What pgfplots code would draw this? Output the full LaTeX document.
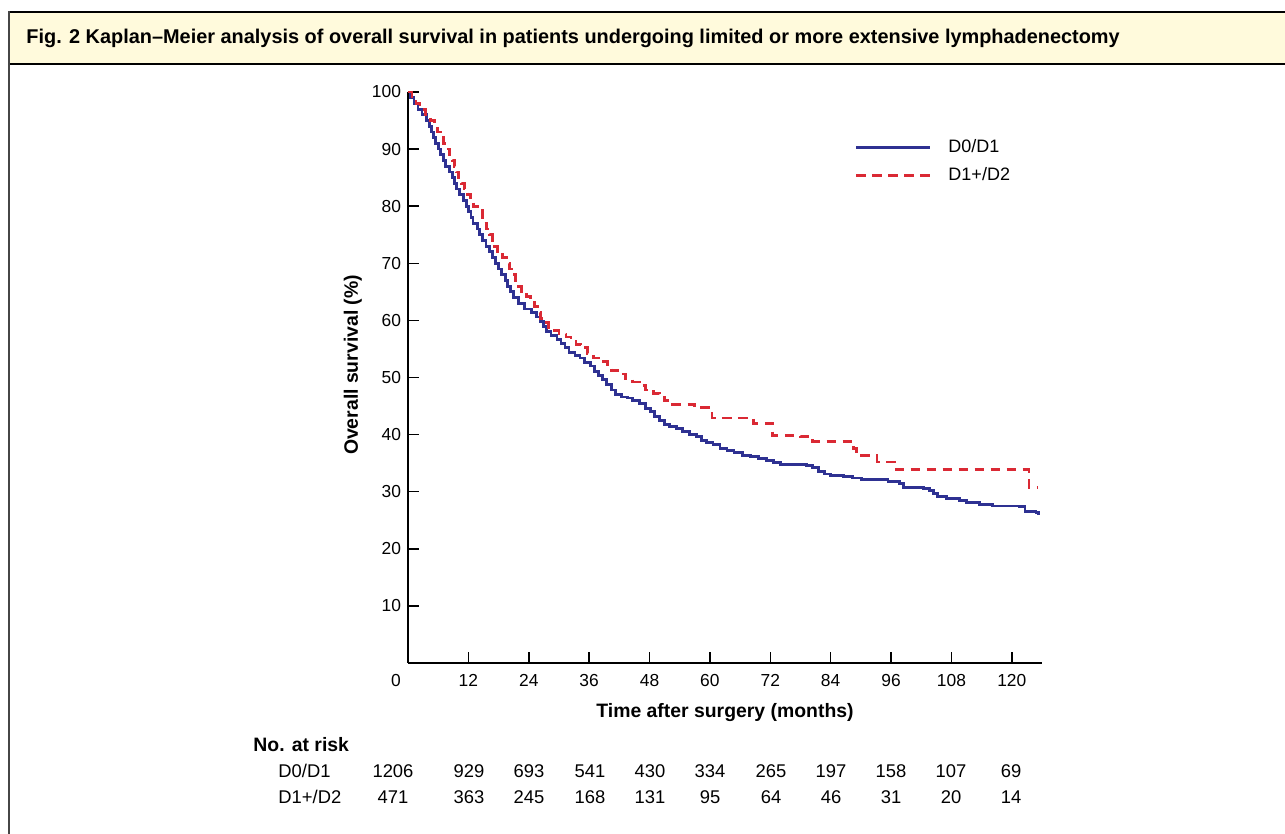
\documentclass[border=0pt]{standalone}
\usepackage{pgfplots}
\pgfplotsset{compat=1.18}
\usepackage{fontspec}
\setmainfont{Liberation Sans}

\definecolor{kmblue}{RGB}{46,49,146}
\definecolor{kmred}{RGB}{218,41,52}
\definecolor{titlebg}{RGB}{255,250,220}
\definecolor{framegray}{RGB}{70,70,70}

\newcommand{\lbl}{\fontsize{8.7}{10}\selectfont}
\newcommand{\tbl}{\fontsize{9.2}{11}\selectfont}
\newcommand{\blbl}{\bfseries\fontsize{9.7}{11}\selectfont}

\begin{document}
\begin{tikzpicture}
	% frame, title bar and risk table, in pixel units (y up)
	\begin{scope}[x=0.5pt,y=0.5pt]
		\useasboundingbox (0,0) rectangle (1285,834);
		\fill[titlebg] (9,770) rectangle (1285,822);
		\draw[line width=1pt, black] (9,822) -- (1285,822);
		\draw[line width=1pt, black] (9,770) -- (1285,770);
		\draw[line width=1.2pt, framegray] (9,0) -- (9,822.5);
		\node[anchor=base west, inner sep=0pt, font=\bfseries\fontsize{9.95}{11}\selectfont]
			at (26,790) {Fig. 2 Kaplan–Meier analysis of overall survival in patients undergoing limited or more extensive lymphadenectomy};

		\node[anchor=west, inner sep=0pt, font=\blbl] at (253,89) {No. at risk};
		\node[anchor=west, inner sep=0pt, font=\tbl] at (278,63) {D0/D1};
		\node[anchor=west, inner sep=0pt, font=\tbl] at (278,37) {D1+/D2};

		\foreach \x/\a/\b in {393/1206/471, 469/929/363, 529/693/245, 590/541/168, 650/430/131,
				710/334/95, 771/265/64, 831/197/46, 891/158/31, 951/107/20, 1011/69/14} {
			\node[inner sep=0pt, font=\tbl] at (\x,63) {\a};
			\node[inner sep=0pt, font=\tbl] at (\x,37) {\b};
		}
	\end{scope}

	\begin{axis}[
			at                = {(204pt,85.5pt)},
			anchor            = south west,
			scale only axis,
			width             = 317pt,
			height            = 285.5pt,
			xmin              = 0,
			xmax              = 126,
			ymin              = 0,
			ymax              = 100,
			axis x line*      = bottom,
			axis y line*      = left,
			axis line style   = {line width=0.75pt, black},
			tick align        = inside,
			major tick length = 5.5pt,
			tick style        = {line width=0.75pt, black},
			xtick             = {12,24,...,120},
			ytick             = {10,20,...,100},
			extra x ticks     = {0},
			extra x tick style = {tick style={draw=none}, xticklabel style={xshift=-6pt}},
			ticklabel style   = {font=\lbl},
			xticklabel style  = {yshift=-2pt},
			/pgf/number format/assume math mode=true,
			xlabel            = {Time after surgery (months)},
			ylabel            = {Overall survival (\%)},
			xlabel style      = {font=\blbl, at={(axis description cs:0.5,-0.086)}, anchor=center},
			ylabel style      = {font=\blbl, at={(axis description cs:-0.087,0.522)}, anchor=center},
			clip              = false,
			legend style      = {draw=none, fill=none, at={(axis cs:87.5,87.8)}, anchor=west,
					font=\fontsize{9}{10}\selectfont, row sep=4pt, nodes={inner sep=1pt, anchor=west}},
			legend cell align = left,
			legend image code/.code={\draw[#1] (0pt,0pt) -- (37pt,0pt);},
			/tikz/every odd column/.append style={column sep=7.5pt},
		]

		\addplot [const plot, color=kmblue, line width=1.4pt] coordinates {
			(0,100) (0.5,99) (1.2,98) (2,97) (2.8,96) (3.6,95) (4.2,94) (4.6,93) (5,92)
			(5.4,91) (6,90) (6.5,89) (7,88) (7.5,87) (8.2,86) (8.8,85) (9.3,84) (9.7,83)
			(10.2,82) (11,81) (11.6,80) (12,79) (12.5,78) (12.9,77) (13.8,76) (14.2,75)
			(14.8,74) (15.5,73) (16.2,72) (16.8,71) (17.4,70) (18,69) (18.6,68) (19.4,67)
			(19.8,66) (20.4,65) (21,64) (22,63) (23.2,62) (24.6,61.4) (25.6,60.6) (26.4,59.8)
			(27,59) (27.6,58) (28.4,57.4) (29.6,56.6) (30.4,56) (31.2,55.2) (32,54.4)
			(33.2,53.8) (34.2,53.4) (35,52.6) (36.2,52) (37,51) (37.8,50.4) (38.6,49.6)
			(39.4,48.8) (40.4,47.8) (41.2,47) (42.4,46.6) (43.6,46.4) (44.6,46) (46,45.4)
			(47.2,44.6) (48.2,44) (49,43.2) (50,42.4) (51,41.8) (52,41.4) (53.4,41)
			(54.6,40.6) (56,40) (57.4,39.6) (58.4,39) (59.4,38.6) (60.6,38.2) (62,37.6)
			(63.4,37.2) (64.8,36.8) (66.4,36.4) (68,36.1) (69.6,35.8) (71.2,35.4) (72.6,35.1)
			(74,34.8) (79.2,34.6) (80.4,34.2) (81.6,33.6) (82.8,33.1) (84,32.9) (86.6,32.7)
			(88.4,32.4) (90.2,32.2) (93,32.1) (95.4,31.8) (97.6,31.4) (98.4,30.8) (102.4,30.6)
			(103.6,30.2) (104.4,29.7) (105.2,29.2) (107,28.8) (109.6,28.4) (111,28.1)
			(113.6,27.8) (116.2,27.5) (121.6,27.4) (122.6,26.6) (124.8,26.3) (125.3,25.9)
		};
		\addlegendentry{D0/D1}

		\addplot [const plot, color=kmred, line width=1.4pt, dash pattern=on 4.8pt off 3.2pt] coordinates {
			(0,100) (0.8,99) (1.6,98) (2.4,97) (3.4,96) (4.4,95) (5.2,94) (5.8,93) (6.4,92)
			(7,91) (7.6,90) (8.2,89) (8.8,88) (9.2,87) (9.6,86) (10,85) (10.6,84) (11.2,83)
			(11.8,82) (12.4,81) (13,80) (14.3,79.2) (14.8,78) (15.2,77) (15.6,76) (16.2,75)
			(16.8,74) (17.2,73) (17.8,72) (18.8,71) (19.6,70) (20.2,69) (20.8,68) (21.4,67)
			(22,66) (22.6,65) (23.6,64.2) (24.4,63.4) (25.2,62.4) (25.8,61.4) (26.4,60.4)
			(27.2,59.6) (28,58.8) (28.8,58.2) (30,57.6) (31.4,57.1) (32.4,56.4) (33.4,55.8)
			(34.4,55.2) (35.6,54.2) (36.8,53.4) (38.4,52.8) (39.6,52.2) (40.4,51.2) (42,50.6)
			(43.2,49.8) (44.6,49.2) (46,48.6) (47.2,47.8) (48.8,47.2) (50,46.6) (51,46)
			(52.6,45.3) (57,44.7) (60.4,42.9) (68.6,42) (72.4,39.9) (78,39.6) (80.4,38.8)
			(88.6,37.6) (89.2,36.3) (93.2,35.2) (97,33.9) (123.4,30.8) (125.3,30.8)
		};
		\addlegendentry{D1+/D2}
	\end{axis}
\end{tikzpicture}
\end{document}
